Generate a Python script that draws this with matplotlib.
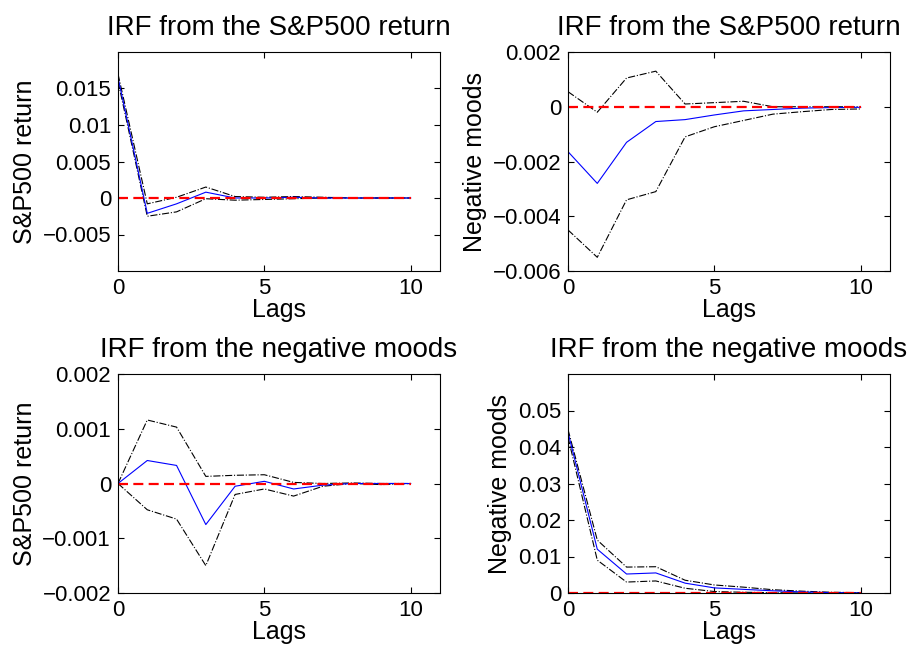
import matplotlib
matplotlib.use('Agg')
import matplotlib.pyplot as plt
import numpy as np

plt.rcParams['font.family'] = ['Liberation Sans', 'DejaVu Sans']
plt.rcParams['font.size'] = 16

lags = np.arange(0, 11)

# IRF from the S&P500 return -> S&P500 return
irf_sp_sp = [0.0165, -0.0021, -0.0008, 0.0008, 0.0000, 0.0000, 0.0001, 0.0000, 0.0000, 0.0000, 0.0000]
up_sp_sp = [0.0170, -0.0008, 0.0001, 0.0015, 0.0002, 0.0001, 0.0002, 0.0001, 0.0000, 0.0000, 0.0000]
lo_sp_sp = [0.0160, -0.0025, -0.0019, -0.0001, -0.0003, -0.0002, -0.0001, 0.0000, 0.0000, 0.0000, 0.0000]

# IRF from the S&P500 return -> negative moods
irf_sp_nm = [-0.00164, -0.0028, -0.0013, -0.00054, -0.00047, -0.0003, -0.00015, -0.0001, -0.00005, -0.00003, -0.00002]
up_sp_nm = [0.00055, -0.0002, 0.00105, 0.0013, 0.0001, 0.00015, 0.0002, 0.0000, 0.0000, 0.0000, 0.0000]
lo_sp_nm = [-0.0045, -0.0055, -0.0034, -0.0031, -0.0011, -0.00073, -0.0005, -0.00027, -0.00018, -0.0001, -0.00008]

# IRF from the negative moods -> S&P500 return
irf_nm_sp = [0.0, 0.00042, 0.00033, -0.00075, -0.00005, 0.00004, -0.0001, -0.00003, 0.0, 0.0, 0.0]
up_nm_sp = [0.0, 0.00116, 0.00103, 0.00013, 0.00015, 0.00016, 0.00002, 0.0, 0.00001, 0.0, 0.0]
lo_nm_sp = [0.0, -0.00048, -0.00065, -0.0015, -0.0002, -0.0001, -0.00023, -0.00005, 0.0, -0.00002, 0.0]

# IRF from the negative moods -> negative moods
irf_nm_nm = [0.044, 0.012, 0.0052, 0.0055, 0.0027, 0.0014, 0.001, 0.0006, 0.0003, 0.0001, 0.0]
up_nm_nm = [0.0448, 0.0145, 0.0071, 0.0072, 0.0035, 0.0022, 0.0016, 0.0009, 0.0005, 0.0002, 0.0001]
lo_nm_nm = [0.0427, 0.009, 0.003, 0.0033, 0.0013, 0.0004, 0.0002, 0.0001, 0.0, 0.0, 0.0]

panels = [
    ('IRF from the S&P500 return', 'S&P500 return', irf_sp_sp, up_sp_sp, lo_sp_sp,
     (-0.01, 0.02), [-0.005, 0, 0.005, 0.01, 0.015], ['\u22120.005', '0', '0.005', '0.01', '0.015']),
    ('IRF from the S&P500 return', 'Negative moods', irf_sp_nm, up_sp_nm, lo_sp_nm,
     (-0.006, 0.002), [-0.006, -0.004, -0.002, 0, 0.002], ['\u22120.006', '\u22120.004', '\u22120.002', '0', '0.002']),
    ('IRF from the negative moods', 'S&P500 return', irf_nm_sp, up_nm_sp, lo_nm_sp,
     (-0.002, 0.002), [-0.002, -0.001, 0, 0.001, 0.002], ['\u22120.002', '\u22120.001', '0', '0.001', '0.002']),
    ('IRF from the negative moods', 'Negative moods', irf_nm_nm, up_nm_nm, lo_nm_nm,
     (0, 0.06), [0, 0.01, 0.02, 0.03, 0.04, 0.05], ['0', '0.01', '0.02', '0.03', '0.04', '0.05']),
]

# axes rectangles in figure fractions [left, bottom, width, height]
W, H = 916, 653
rects = [
    [118 / W, 1 - 271 / H, 322 / W, 219 / H],
    [568 / W, 1 - 271 / H, 322 / W, 219 / H],
    [118 / W, 1 - 593 / H, 322 / W, 219 / H],
    [568 / W, 1 - 593 / H, 322 / W, 219 / H],
]

fig = plt.figure(figsize=(W / 100, H / 100), dpi=100)

for rect, (title, ylab, irf, up, lo, ylim, yt, ytl) in zip(rects, panels):
    ax = fig.add_axes(rect)
    ax.plot(lags, up, color='black', linestyle='-.', linewidth=0.8)
    ax.plot(lags, lo, color='black', linestyle='-.', linewidth=0.8)
    ax.plot(lags, irf, color='blue', linewidth=0.8)
    ax.plot(lags, np.zeros(len(lags)), color='red', linestyle='--', linewidth=1.6, dashes=(4.5, 2.4))
    ax.set_xlim(0, 11)
    ax.set_ylim(*ylim)
    ax.set_xticks([0, 5, 10])
    ax.set_yticks(yt)
    ax.set_yticklabels(ytl)
    ax.tick_params(direction='in', top=True, right=True, length=4, labelsize=16, pad=5)
    ax.set_title(title, fontsize=20, pad=12)
    ax.set_xlabel('Lags', fontsize=18, labelpad=-1)
    ax.set_ylabel(ylab, fontsize=18, labelpad=4)

fig.savefig('out.png', dpi=100)
